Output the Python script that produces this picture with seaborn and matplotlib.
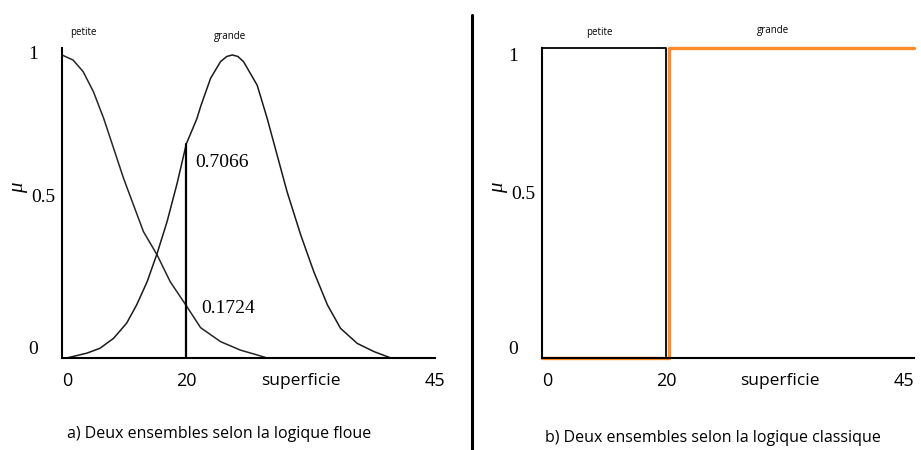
"""Ensembles flous vs ensembles classiques (superficie)."""

import numpy as np
import pandas as pd
import matplotlib
matplotlib.use("Agg")
import matplotlib.pyplot as plt
from matplotlib.lines import Line2D
import seaborn as sns

# a) logique floue : points (superficie, degré mu)
PETITE_X = [0, 1.8, 3.4, 5.05, 6.7, 8.3, 9.9, 11.5, 13.1, 15.3, 17.4, 20, 22.3,
            25.5, 28.7, 31.4, 33]
PETITE_MU = [1.0, 0.983, 0.945, 0.879, 0.791, 0.692, 0.593, 0.505, 0.417, 0.34,
             0.252, 0.1724, 0.1, 0.054, 0.026, 0.01, 0.0]
GRANDE_X = [0.75, 4.0, 6.1, 8.3, 10.4, 12.0, 13.7, 15.3, 16.9, 18.5, 20, 21.7, 22.3,
            23.9, 25.5, 26.5, 27.4, 28.3, 29.2, 31.4, 33.0, 34.6, 36.2, 38.4, 40.5,
            42.7, 44.8, 47.5, 50.2, 52.9]
GRANDE_MU = [0.0, 0.016, 0.032, 0.065, 0.115, 0.175, 0.252, 0.345, 0.45, 0.575,
             0.7066, 0.79, 0.83, 0.923, 0.978, 0.995, 1.0, 0.995, 0.978, 0.9, 0.791,
             0.67, 0.549, 0.406, 0.285, 0.175, 0.098, 0.048, 0.021, 0.0]
SEUIL = 20
MU_PETITE_SEUIL = 0.1724
MU_GRANDE_SEUIL = 0.7066

# b) logique classique
CLASS_PETITE_X = [0, 0, 20, 20]
CLASS_PETITE_MU = [0, 1, 1, 0]
CLASS_GRANDE_X = [0, 20.5, 20.5, 60]
CLASS_GRANDE_MU = [0, 0, 1, 1]

X_MAX = 60
XTICKS = [0, 20, X_MAX]
XTICK_LABELS = ["0", "20", "45"]
YTICKS = [0, 0.5, 1]
YTICK_LABELS = ["0", "0.5", "1"]

SERIF = "Liberation Serif"
SANS = "Open Sans"
ORANGE = "#ff8a2b"

W, H = 921, 450


def px(x, y):
    """Pixel position (from top-left) -> figure fraction."""
    return x / W, 1 - y / H


def style_axes(ax, ytop, one_va, last_ha):
    ax.set_xlim(0, X_MAX)
    ax.set_ylim(0, ytop)
    sns.despine(ax=ax)
    for s in ("left", "bottom"):
        ax.spines[s].set_linewidth(1.5)
        ax.spines[s].set_color("black")
    ax.set_xticks(XTICKS, labels=XTICK_LABELS, fontfamily=SANS)
    ax.tick_params(axis="x", length=0, pad=10, labelsize=13)
    xt = ax.xaxis.get_major_ticks()
    xt[0].label1.set_ha("left")
    xt[2].label1.set_ha(last_ha)
    ax.set_yticks(YTICKS, labels=YTICK_LABELS, fontfamily=SERIF)
    ax.tick_params(axis="y", direction="in", length=7, width=1.5, pad=5, labelsize=14)
    ticks = ax.yaxis.get_major_ticks()
    for i in (0, 2):
        ticks[i].tick1line.set_visible(False)
        ticks[i].label1.set_x(-0.045)
    ticks[0].label1.set_va("bottom")
    ticks[1].label1.set_va("bottom")
    ticks[2].label1.set_va(one_va)
    ax.set_ylabel("μ", fontfamily=SERIF, style="italic", fontsize=15, rotation=90)
    ax.yaxis.set_label_coords(-0.092, 0.55)
    ax.set_xlabel("")
    ax.text(0.64, -0.075, "superficie", transform=ax.transAxes, ha="center", va="center",
            fontsize=12.5, fontfamily=SANS)


sns.set_theme(style="white")
plt.rcParams["font.family"] = [SANS, "DejaVu Sans"]
plt.rcParams.update({"text.color": "black", "axes.labelcolor": "black",
                     "xtick.color": "black", "ytick.color": "black"})

fig = plt.figure(figsize=(W / 100, H / 100), dpi=100)
ax1 = fig.add_axes([62 / W, 1 - 358 / H, 373 / W, 310 / H])
ax2 = fig.add_axes([542 / W, 1 - 358 / H, 372 / W, 310 / H])

# --- a) logique floue
petite = pd.DataFrame({"x": PETITE_X, "mu": PETITE_MU})
grande = pd.DataFrame({"x": GRANDE_X, "mu": GRANDE_MU})
sns.lineplot(data=petite, x="x", y="mu", ax=ax1, color="#262626", lw=1.1,
             sort=False, estimator=None)
sns.lineplot(data=grande, x="x", y="mu", ax=ax1, color="#1a1a1a", lw=1.1,
             sort=False, estimator=None)
ax1.plot([SEUIL, SEUIL], [0, MU_GRANDE_SEUIL], color="black", lw=1.6)
ax1.text(SEUIL + 1.5, MU_GRANDE_SEUIL - 0.06, f"{MU_GRANDE_SEUIL:.4f}",
         fontfamily=SERIF, fontsize=14, va="center")
ax1.text(SEUIL + 2.4, MU_PETITE_SEUIL - 0.01, f"{MU_PETITE_SEUIL:.4f}",
         fontfamily=SERIF, fontsize=14, va="center")
style_axes(ax1, 1.023, "center", "center")

# --- b) logique classique
cp = pd.DataFrame({"x": CLASS_PETITE_X, "mu": CLASS_PETITE_MU})
cg = pd.DataFrame({"x": CLASS_GRANDE_X, "mu": CLASS_GRANDE_MU})
sns.lineplot(data=cp, x="x", y="mu", ax=ax2, color="black", lw=1.3,
             sort=False, estimator=None, clip_on=False)
sns.lineplot(data=cg, x="x", y="mu", ax=ax2, color=ORANGE, lw=2.4,
             sort=False, estimator=None, clip_on=False)
style_axes(ax2, 1.0, "top", "right")

# étiquettes des ensembles
for (x, y), s in [((83, 33), "petite"), ((230, 36), "grande"),
                  ((599, 32), "petite"), ((773, 31), "grande")]:
    fig.text(*px(x, y), s, ha="center", va="center", fontsize=7, fontfamily=SANS)

fig.text(*px(219, 434), "a) Deux ensembles selon la logique floue",
         ha="center", va="center", fontsize=11.5, fontfamily=SANS)
fig.text(*px(713, 438), "b) Deux ensembles selon la logique classique",
         ha="center", va="center", fontsize=11.5, fontfamily=SANS)

fig.add_artist(Line2D([471.5 / W] * 2, [0, 1 - 15 / H], color="black", lw=2.2,
                      transform=fig.transFigure))

fig.savefig("out.png", dpi=100)
plt.close(fig)
